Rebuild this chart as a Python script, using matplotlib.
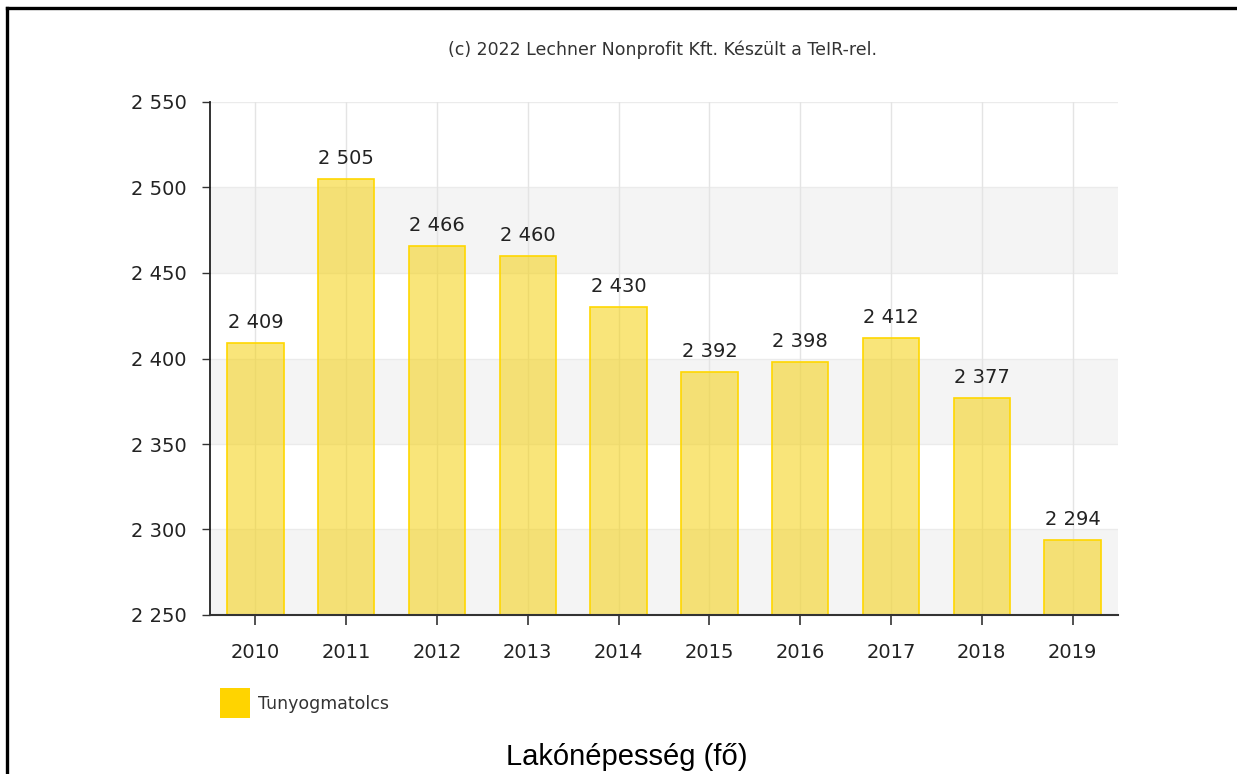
import matplotlib
matplotlib.use("Agg")
import matplotlib.pyplot as plt
from matplotlib.lines import Line2D
from matplotlib.patches import Rectangle
import numpy as np

years = ["2010", "2011", "2012", "2013", "2014", "2015", "2016", "2017", "2018", "2019"]
values = [2409, 2505, 2466, 2460, 2430, 2392, 2398, 2412, 2377, 2294]
yticks = [2250, 2300, 2350, 2400, 2450, 2500, 2550]
series_name = "Tunyogmatolcs"
credit = "(c) 2022 Lechner Nonprofit Kft. Készült a TeIR-rel."
title = "Lakónépesség (fő)"

def fmt(v):
    return f"{v:,}".replace(",", " ")

W, H = 1237, 774
fig = plt.figure(figsize=(W / 100, H / 100), dpi=100)
ax = fig.add_axes([210 / W, 1 - 615 / H, (1118 - 210) / W, (615 - 102) / H])

x = np.arange(len(years))
ax.set_xlim(-0.5, len(years) - 0.5)
ax.set_ylim(yticks[0], yticks[-1])

# alternating bands
for i in range(len(yticks) - 1):
    if i % 2 == 0:
        ax.axhspan(yticks[i], yticks[i + 1], color="#F4F4F4", zorder=0, lw=0)
for yv in yticks[1:]:
    ax.axhline(yv, color="#EBEBEB", lw=1, zorder=0.5)
for xv in x:
    ax.axvline(xv, color="#E4E4E4", lw=1, zorder=0.6)

ax.bar(x, [v - yticks[0] for v in values], bottom=yticks[0], width=0.62,
       facecolor=(0.96, 0.82, 0.05, 0.55), edgecolor="#FFD700", lw=1.2, zorder=2)

for xi, v in zip(x, values):
    ax.annotate(fmt(v), (xi, v), xytext=(0, 8), textcoords="offset points",
                ha="center", va="bottom", fontsize=14, color="#222222",
                family="DejaVu Sans")

ax.set_xticks(x)
ax.set_xticklabels(years, fontsize=14, color="#222222")
ax.set_yticks(yticks)
ax.set_yticklabels([fmt(t) for t in yticks], fontsize=14, color="#222222")
ax.tick_params(axis="y", length=6, width=1, color="#333333", pad=11)
ax.tick_params(axis="x", length=7, width=1.2, color="#333333", pad=13)

for s in ["top", "right"]:
    ax.spines[s].set_visible(False)
ax.spines["left"].set_color("#222222")
ax.spines["left"].set_linewidth(1.3)
ax.spines["bottom"].set_color("#333333")
ax.spines["bottom"].set_linewidth(1.5)

fig.text(663 / W, 1 - 50 / H, credit, ha="center", va="center",
         fontsize=12.5, color="#333333", family="DejaVu Sans")

# legend
fig.patches.append(Rectangle((220 / W, 1 - 718 / H), 30 / W, 30 / H,
                             transform=fig.transFigure, facecolor="#FFD400",
                             edgecolor="none"))
fig.text(258 / W, 1 - 704 / H, series_name, ha="left", va="center",
         fontsize=12.5, color="#333333", family="DejaVu Sans")

fig.text(627 / W, 1 - 757 / H, title, ha="center", va="center",
         fontsize=21, color="#000000", family="Liberation Sans")

# border frame
fig.add_artist(Line2D([7.5 / W, 7.5 / W], [0, 1 - 7.5 / H], transform=fig.transFigure,
                      color="black", lw=2.4))
fig.add_artist(Line2D([7.5 / W, 1], [1 - 7.5 / H, 1 - 7.5 / H], transform=fig.transFigure,
                      color="black", lw=2.4))

fig.savefig("out.png", dpi=100, facecolor="white")
